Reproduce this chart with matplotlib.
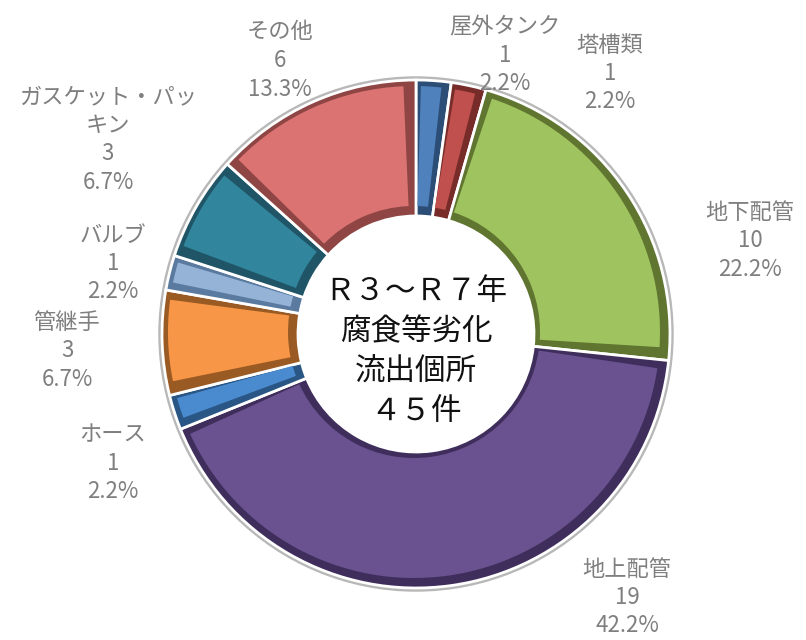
import numpy as np
import matplotlib.pyplot as plt
from matplotlib.patches import Wedge, Circle

plt.rcParams['font.family'] = ['Noto Sans CJK JP', 'DejaVu Sans']

# data (clockwise from 12 o'clock)
categories = ['屋外タンク', '塔槽類', '地下配管', '地上配管', 'ホース',
              '管継手', 'バルブ', 'ガスケット・パッキン', 'その他']
counts = [1, 1, 10, 19, 1, 3, 1, 3, 6]
face_colors = ['#4F81BD', '#C0504D', '#9FC35E', '#6A5290', '#4A8BD0',
               '#F79646', '#95B3D7', '#31859C', '#DA7372']
edge_colors = ['#2C4D75', '#772C2A', '#5F7530', '#3F2E5C', '#2A5686',
               '#9A5A23', '#5A7AA0', '#1F5566', '#8E4544']
center_lines = ['Ｒ３～Ｒ７年', '腐食等劣化', '流出個所', '４５件']

# label anchor (pixel coords of first line centre)
label_pos = [(505, 27), (610, 45), (750, 212), (627, 569), (113, 435),
             (67, 322), (113, 235), (108, 97), (280, 32)]

W, H = 806, 640
fig = plt.figure(figsize=(W / 100, H / 100), dpi=100)
ax = fig.add_axes([0, 0, 1, 1])

cx, cy = 416, H - 334
R, width = 254, 136
bev = 8

wedges, _ = ax.pie(counts, colors=edge_colors, startangle=90, counterclock=False,
                   radius=R, center=(cx, cy),
                   wedgeprops=dict(width=width, edgecolor='white', linewidth=2))

# pie() resets the limits, so set them afterwards
ax.set_xlim(0, W)
ax.set_ylim(0, H)
ax.set_aspect('equal')
ax.axis('off')

# soft grey rim
ax.add_patch(Circle((cx, cy), R + 2, fill=False, edgecolor='#b8b8b8', lw=2.5, zorder=0))

# bevel: inset face on top of darker base
for w, fc in zip(wedges, face_colors):
    rmid = w.r - w.width / 2
    span = w.theta2 - w.theta1
    dth = min(np.degrees(bev / rmid), 0.2 * span)
    face = Wedge((w.center[0] - 2, w.center[1] + 2), w.r - bev, w.theta1 + dth,
                 w.theta2 - dth, width=w.width - 2 * bev, facecolor=fc, lw=0, zorder=3)
    ax.add_patch(face)

total = sum(counts)
for name, n, (x, y) in zip(categories, counts, label_pos):
    if len(name) > 8:
        name = name[:8] + '\n' + name[8:]
    lines = name.split('\n') + [str(n), f'{n / total * 100:.1f}%']
    for i, t in enumerate(lines):
        ax.text(x, H - (y + i * 28.5), t, ha='center', va='center',
                fontsize=16, color='#7f7f7f')

for i, t in enumerate(center_lines):
    ax.text(416, H - (292 + i * 40), t, ha='center', va='center',
            fontsize=22, color='#111111')

plt.savefig('out.png', dpi=100)
